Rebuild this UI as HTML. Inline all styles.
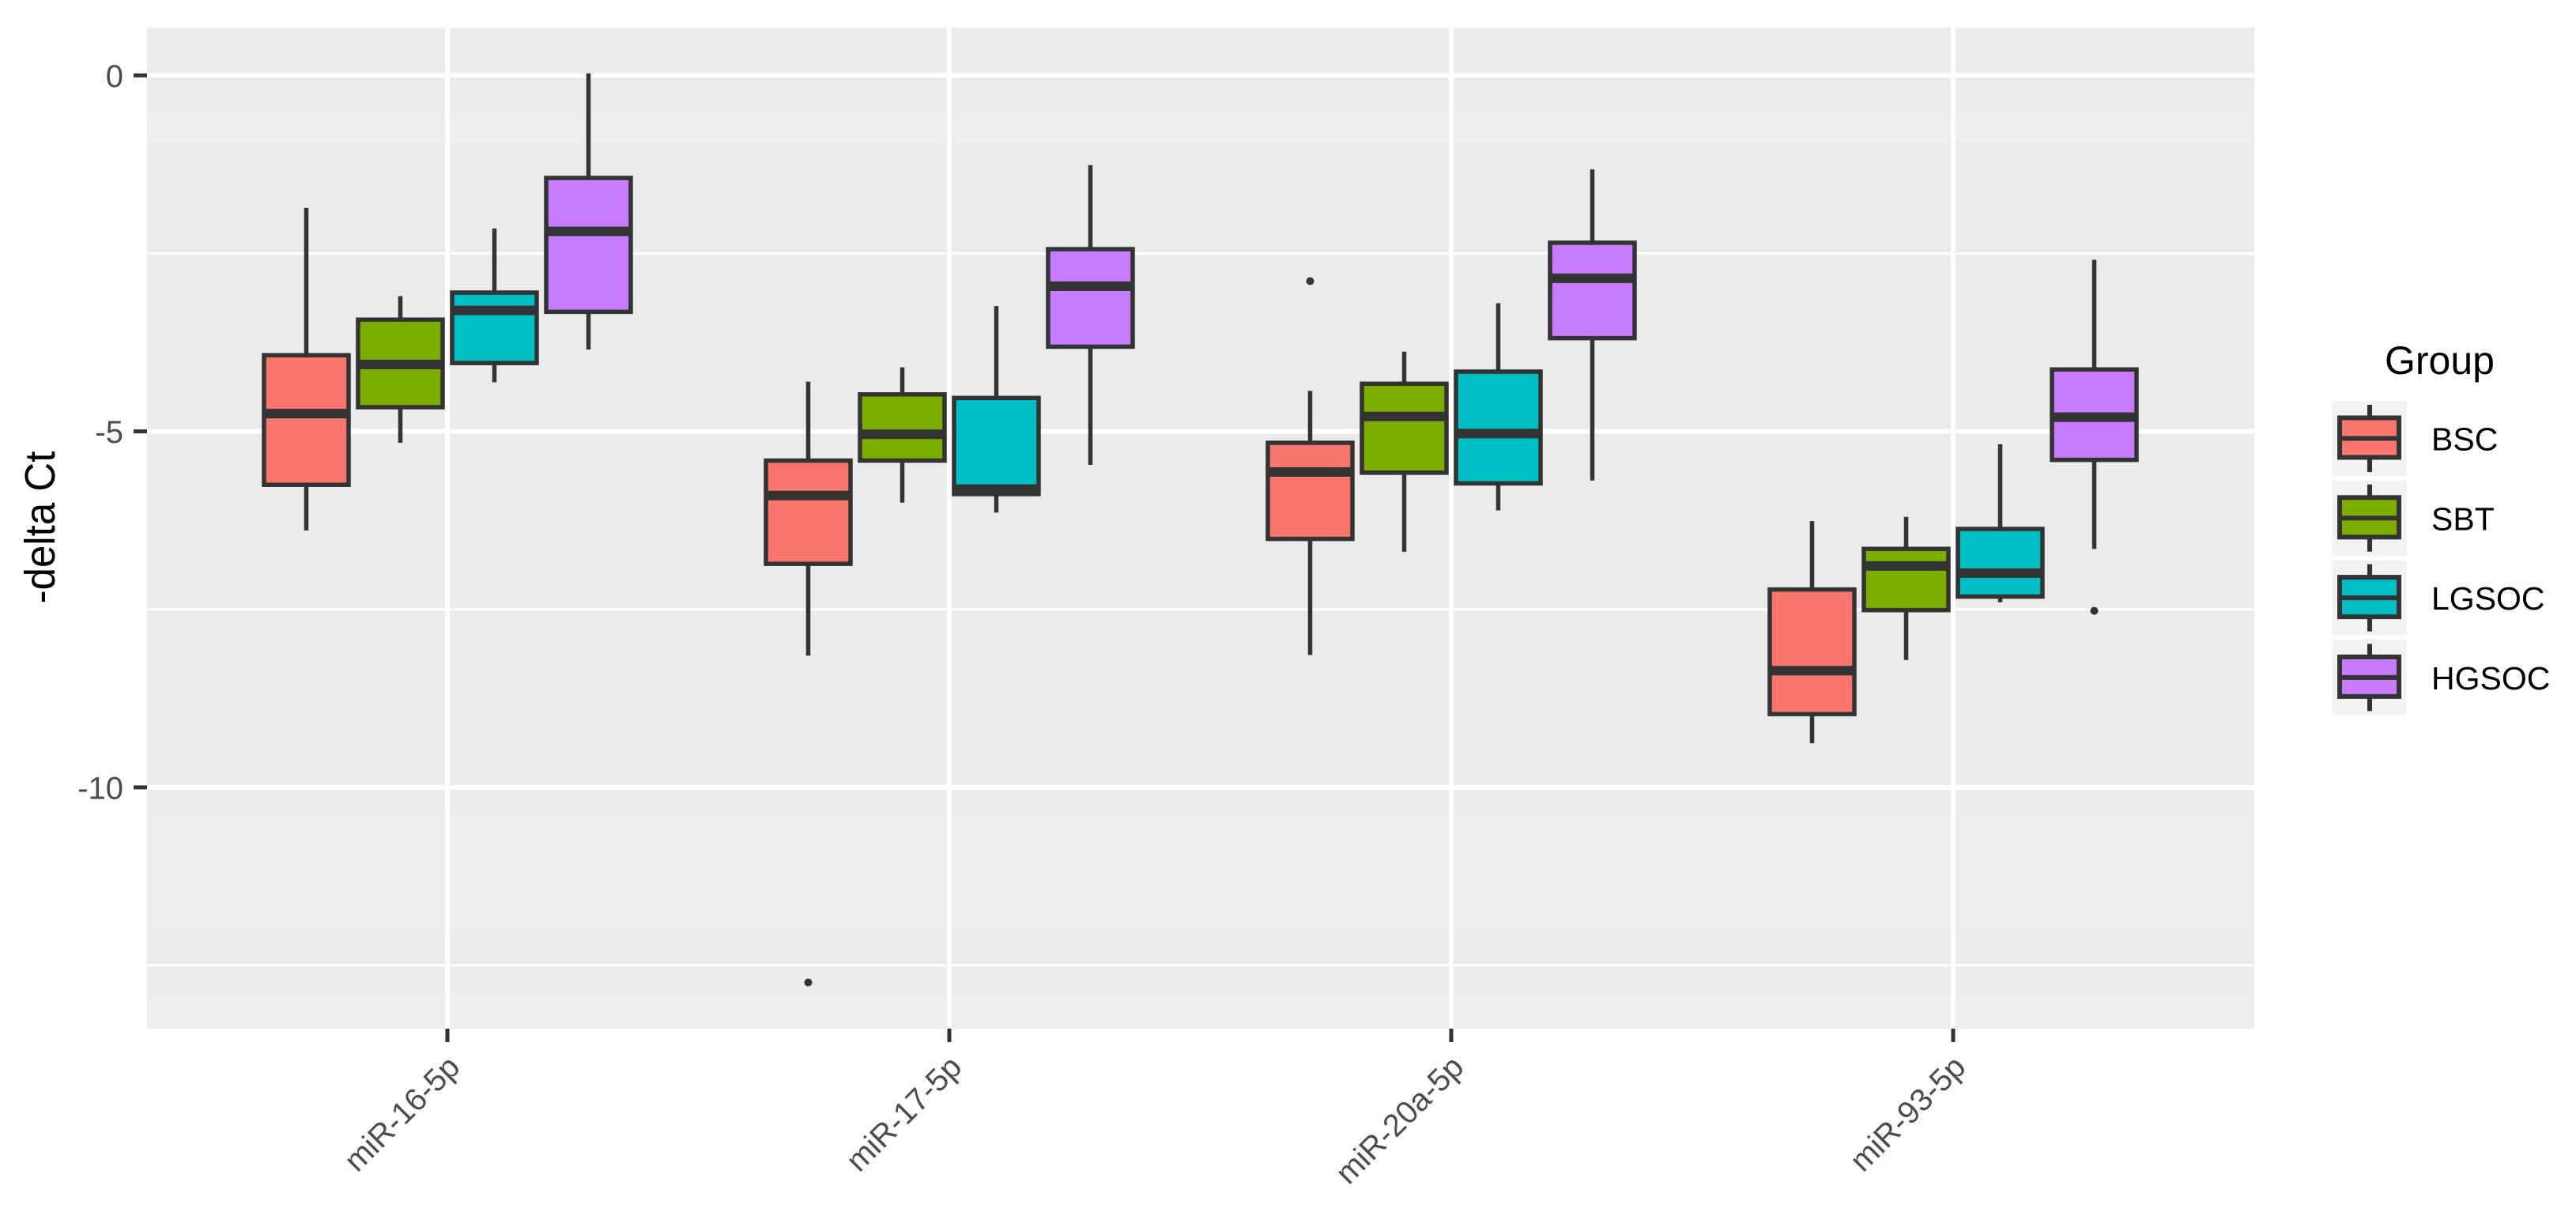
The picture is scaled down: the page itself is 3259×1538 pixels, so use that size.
<!DOCTYPE html>
<html lang="en">
<head>
<meta charset="utf-8">
<title>-delta Ct boxplot by miRNA and group</title>
<style>
  html, body { margin: 0; padding: 0; background: #ffffff; }
  svg { display: block; }
  text { font-family: "Liberation Sans", sans-serif; }
</style>
</head>
<body>
<svg id="chart" xmlns="http://www.w3.org/2000/svg" width="3259" height="1538" viewBox="0 0 3259 1538">
  <rect x="0" y="0" width="3259" height="1538" fill="#ffffff"/>
  <g>
    <rect x="186" y="35" width="2666" height="1266" fill="#ebebeb"/>
    <rect x="186" y="143" width="2666" height="38" fill="#eeeeee"/>
    <rect x="186" y="1029" width="2666" height="153" fill="#ededed"/>
    <rect x="186" y="1259" width="2666" height="42" fill="#eeeeee"/>
  </g>
  <g id="grid"></g>
  <g id="axes"></g>
  <g id="marks"></g>
  <text transform="translate(69,667) rotate(-90) scale(1,1.06)" text-anchor="middle" font-size="51" fill="#000000">-delta Ct</text>
  <g id="legend">
    <text x="3017" y="473" font-size="50" fill="#000000">Group</text>
  </g>
</svg>
<script>
const categories = ['miR-16-5p', 'miR-17-5p', 'miR-20a-5p', 'miR-93-5p'];
const groups = ['BSC', 'SBT', 'LGSOC', 'HGSOC'];
const groupColors = ['#f8766d', '#7cae00', '#00bfc4', '#c77cff'];
const yTicks = [0, -5, -10];
const yTickLabels = ['0', '-5', '-10'];
const yMinorTicks = [-2.5, -7.5, -12.5];

// each row: whiskerTop, boxTop (q3), median, boxBottom (q1), whiskerBottom; one row per group
const bscStats = [
  [-1.86, -3.93, -4.75, -5.75, -6.39],
  [-4.30, -5.41, -5.90, -6.86, -8.15],
  [-4.43, -5.16, -5.57, -6.51, -8.14],
  [-6.26, -7.22, -8.36, -8.97, -9.38]
];
const sbtStats = [
  [-3.10, -3.43, -4.06, -4.66, -5.16],
  [-4.10, -4.48, -5.04, -5.41, -6.00],
  [-3.88, -4.33, -4.79, -5.58, -6.69],
  [-6.20, -6.65, -6.89, -7.51, -8.21]
];
const lgsocStats = [
  [-2.15, -3.05, -3.30, -4.04, -4.31],
  [-3.24, -4.53, -5.81, -5.88, -6.14],
  [-3.20, -4.16, -5.03, -5.73, -6.11],
  [-5.18, -6.37, -6.99, -7.32, -7.40]
];
const hgsocStats = [
  [0.03, -1.44, -2.19, -3.32, -3.85],
  [-1.26, -2.44, -2.96, -3.81, -5.47],
  [-1.32, -2.35, -2.85, -3.69, -5.69],
  [-2.59, -4.13, -4.80, -5.40, -6.65]
];
// outliers: [categoryIndex, groupIndex, value]
const outliers = [
  [1, 0, -12.74],
  [2, 0, -2.89],
  [3, 3, -7.52]
];

const seriesStats = [bscStats, sbtStats, lgsocStats, hgsocStats];

const NS = 'http://www.w3.org/2000/svg';
const PANEL = { left: 186, right: 2852, top: 35, bottom: 1301 };
const BAND = 635;
const DODGE = 119;
const BOX_W = 107;

function yScale(v) { return 95.4 - v * 90.05; }
function xScale(i) { return 566 + i * BAND; }
function dodgeX(i, g) { return xScale(i) + (g - 1.5) * DODGE; }

function make(tag, attrs, parent) {
  const el = document.createElementNS(NS, tag);
  for (const k in attrs) el.setAttribute(k, attrs[k]);
  parent.appendChild(el);
  return el;
}

const grid = document.getElementById('grid');
const axes = document.getElementById('axes');
const marks = document.getElementById('marks');
const legend = document.getElementById('legend');

yMinorTicks.forEach(function (t) {
  const l = make('line', { x1: PANEL.left, x2: PANEL.right, y1: yScale(t), y2: yScale(t), stroke: '#ffffff', 'stroke-width': 3 }, grid);
  
  
});
yTicks.forEach(function (t, i) {
  const y = yScale(t);
  const l = make('line', { x1: PANEL.left, x2: PANEL.right, y1: y, y2: y, stroke: '#ffffff', 'stroke-width': 6 }, grid);
  
  
  const tick = make('line', { x1: 169, x2: PANEL.left, y1: y, y2: y, stroke: '#333333', 'stroke-width': 5 }, axes);
  
  
  const label = make('text', { x: 156, y: y + 14.5, 'text-anchor': 'end', 'font-size': 40, fill: '#4d4d4d' }, axes);
  
  
  label.textContent = yTickLabels[i];
});
categories.forEach(function (c, i) {
  const x = xScale(i);
  const l = make('line', { x1: x, x2: x, y1: PANEL.top, y2: PANEL.bottom, stroke: '#ffffff', 'stroke-width': 6 }, grid);
  
  
  const tick = make('line', { x1: x, x2: x, y1: PANEL.bottom, y2: 1318, stroke: '#333333', 'stroke-width': 5 }, axes);
  
  
  const label = make('text', { transform: 'translate(' + (x + 18) + ',1352) rotate(-45)', 'text-anchor': 'end', 'font-size': 40, fill: '#4d4d4d' }, axes);
  
  
  label.textContent = c;
});

categories.forEach(function (c, i) {
  groups.forEach(function (gName, g) {
    const s = seriesStats[g][i];
    const cx = dodgeX(i, g);
    const box = make('g', {}, marks);
    
    
    const wu = make('line', { x1: cx, x2: cx, y1: yScale(s[0]), y2: yScale(s[1]), stroke: '#333333', 'stroke-width': 5.5 }, box);
    
    
    const wl = make('line', { x1: cx, x2: cx, y1: yScale(s[3]), y2: yScale(s[4]), stroke: '#333333', 'stroke-width': 5.5 }, box);
    
    
    const r = make('rect', { x: cx - BOX_W / 2, y: yScale(s[1]), width: BOX_W, height: yScale(s[3]) - yScale(s[1]), fill: groupColors[g], stroke: '#333333', 'stroke-width': 5.5 }, box);
    
    
    const m = make('line', { x1: cx - BOX_W / 2, x2: cx + BOX_W / 2, y1: yScale(s[2]), y2: yScale(s[2]), stroke: '#333333', 'stroke-width': 12 }, box);
    
    
  });
});

outliers.forEach(function (o) {
  const p = make('circle', { cx: dodgeX(o[0], o[1]), cy: yScale(o[2]), r: 5, fill: '#333333' }, marks);
  
  
});

groups.forEach(function (gName, g) {
  const top = 507 + g * 100.8;
  const entry = make('g', {}, legend);
  
  
  const bg = make('rect', { x: 2951, y: top, width: 94, height: 95, fill: '#f2f2f2' }, entry);
  
  
  const w = make('line', { x1: 2998, x2: 2998, y1: top + 5, y2: top + 90, stroke: '#333333', 'stroke-width': 6 }, entry);
  
  
  const r = make('rect', { x: 2960, y: top + 21.5, width: 75, height: 50, fill: groupColors[g], stroke: '#333333', 'stroke-width': 6 }, entry);
  
  
  const m = make('line', { x1: 2960, x2: 3035, y1: top + 47.5, y2: top + 47.5, stroke: '#333333', 'stroke-width': 6 }, entry);
  
  
  const t = make('text', { x: 3076, y: top + 62.5, 'font-size': 41, fill: '#000000' }, entry);
  
  
  t.textContent = gName;
});
</script>
</body>
</html>
